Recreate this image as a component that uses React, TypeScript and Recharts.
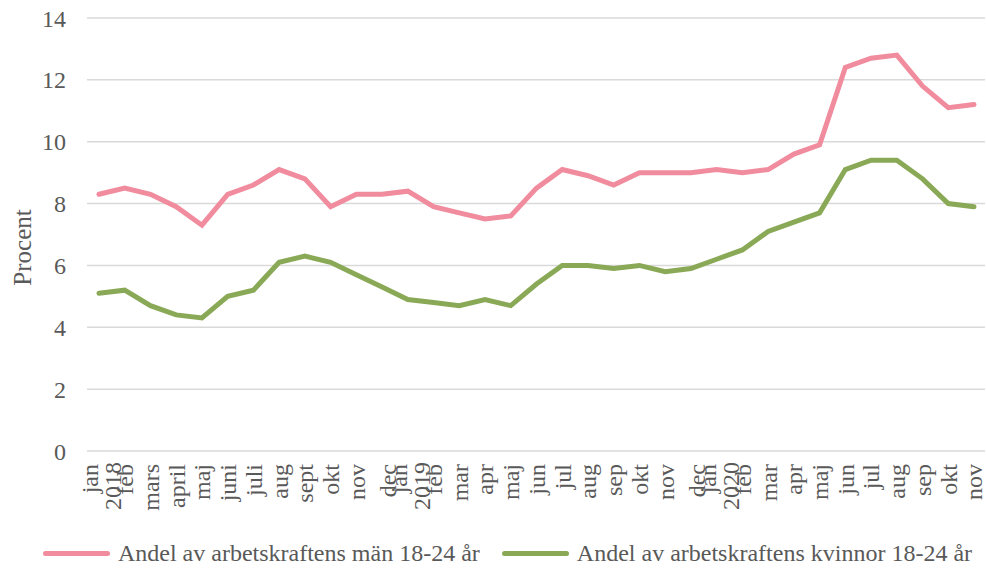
import { CartesianGrid, Legend, Line, LineChart, XAxis, YAxis } from 'recharts';

const months = [
  'jan', 'feb', 'mars', 'april', 'maj', 'juni', 'juli', 'aug', 'sept', 'okt', 'nov', 'dec',
  'jan', 'feb', 'mar', 'apr', 'maj', 'jun', 'jul', 'aug', 'sep', 'okt', 'nov', 'dec',
  'jan', 'feb', 'mar', 'apr', 'maj', 'jun', 'jul', 'aug', 'sep', 'okt', 'nov'
];

const years = [
  '2018', '', '', '', '', '', '', '', '', '', '', '',
  '2019', '', '', '', '', '', '', '', '', '', '', '',
  '2020', '', '', '', '', '', '', '', '', '', ''
];

const men = [
  8.3, 8.5, 8.3, 7.9, 7.3, 8.3, 8.6, 9.1, 8.8, 7.9, 8.3, 8.3,
  8.4, 7.9, 7.7, 7.5, 7.6, 8.5, 9.1, 8.9, 8.6, 9.0, 9.0, 9.0,
  9.1, 9.0, 9.1, 9.6, 9.9, 12.4, 12.7, 12.8, 11.8, 11.1, 11.2
];

const women = [
  5.1, 5.2, 4.7, 4.4, 4.3, 5.0, 5.2, 6.1, 6.3, 6.1, 5.7, 5.3,
  4.9, 4.8, 4.7, 4.9, 4.7, 5.4, 6.0, 6.0, 5.9, 6.0, 5.8, 5.9,
  6.2, 6.5, 7.1, 7.4, 7.7, 9.1, 9.4, 9.4, 8.8, 8.0, 7.9
];

const yTicks = [0, 2, 4, 6, 8, 10, 12, 14];

const menName = 'Andel av arbetskraftens män 18-24 år';
const womenName = 'Andel av arbetskraftens kvinnor 18-24 år';

const PINK = '#F08C9E';
const GREEN = '#8AA957';
const TEXT = '#595959';
const FONT = '"Liberation Serif", "Times New Roman", serif';
const FS = 24;

const data = months.map((m, i) => ({
  idx: i,
  month: m,
  year: years[i],
  men: men[i],
  women: women[i]
}));

function MonthTick(props: any) {
  const { x, y, payload } = props;
  const i = payload.value as number;
  const m = months[i];
  const yr = years[i];
  const shift = yr ? -9 : m === 'dec' ? 6 : 0;
  return (
    <g transform={`translate(${x + shift},${y})`}>
      <text
        transform="rotate(-90)"
        textAnchor="end"
        x={-13}
        dy="0.35em"
        fontFamily={FONT}
        fontSize={FS}
        fill={TEXT}
      >
        {m}
      </text>
      {yr && (
        <text
          transform="rotate(-90)"
          textAnchor="end"
          x={-11}
          y={23}
          dy="0.35em"
          fontFamily={FONT}
          fontSize={FS}
          fill={TEXT}
        >
          {yr}
        </text>
      )}
    </g>
  );
}

function LegendLine({ color, label }: { color: string; label: string }) {
  return (
    <div style={{ display: 'flex', alignItems: 'center' }}>
      <div style={{ width: 67, height: 5, borderRadius: 3, background: color, marginRight: 8 }} />
      <span>{label}</span>
    </div>
  );
}

function renderLegend() {
  return (
    <div
      style={{
        display: 'flex',
        justifyContent: 'center',
        alignItems: 'center',
        gap: 22,
        height: 35,
        fontFamily: FONT,
        fontSize: FS,
        color: TEXT,
        paddingLeft: 29,
        paddingTop: 2,
        whiteSpace: 'nowrap'
      }}
    >
      <LegendLine color={PINK} label={menName} />
      <LegendLine color={GREEN} label={womenName} />
    </div>
  );
}

export default function App() {
  return (
    <div style={{ position: 'absolute', left: 0, top: 0 }}>
      <LineChart width={986} height={569} data={data} margin={{ top: 18, right: 1, left: 0, bottom: 0 }}>
        <CartesianGrid stroke="#D9D9D9" strokeWidth={1.5} vertical={false} />
        <XAxis
          dataKey="idx"
          type="category"
          interval={0}
          height={83}
          axisLine={false}
          tickLine={false}
          tickSize={0}
          tickMargin={0}
          padding={{ left: 12, right: 11 }}
          tick={<MonthTick />}
        />
        <YAxis
          width={87}
          domain={[0, 14]}
          ticks={yTicks}
          axisLine={false}
          tickLine={false}
          tickSize={0}
          tickMargin={21}
          tick={{ fontFamily: FONT, fontSize: FS, fill: TEXT }}
          label={{
            content: (p: any) => {
              const vb = p.viewBox;
              const cx = 22;
              const cy = vb.y + vb.height / 2 + 13;
              return (
                <text
                  x={cx}
                  y={cy}
                  transform={`rotate(-90 ${cx} ${cy})`}
                  textAnchor="middle"
                  dominantBaseline="central"
                  fontFamily={FONT}
                  fontSize={25}
                  fill={TEXT}
                >
                  Procent
                </text>
              );
            }
          }}
        />
        <Legend verticalAlign="bottom" content={renderLegend} wrapperStyle={{ left: 0, width: 986, height: 35 }} />
        <Line
          type="linear"
          dataKey="men"
          name={menName}
          stroke={PINK}
          strokeWidth={5}
          strokeLinecap="round"
          dot={false}
          activeDot={false}
          isAnimationActive={false}
        />
        <Line
          type="linear"
          dataKey="women"
          name={womenName}
          stroke={GREEN}
          strokeWidth={5}
          strokeLinecap="round"
          dot={false}
          activeDot={false}
          isAnimationActive={false}
        />
      </LineChart>
    </div>
  );
}
